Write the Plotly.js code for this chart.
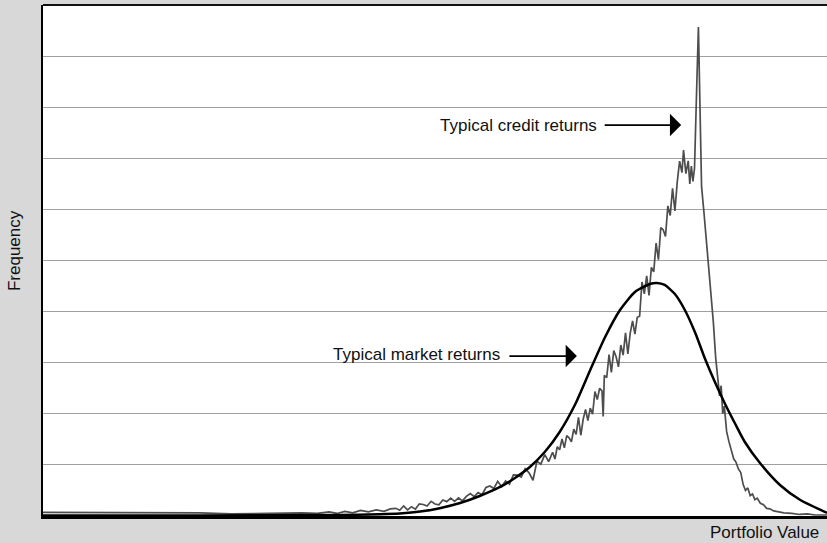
<!DOCTYPE html>
<html>
<head>
<meta charset="utf-8">
<script src="https://cdn.plot.ly/plotly-3.0.1.min.js"></script>
<style>
html,body{margin:0;padding:0;background:#d8d8d8;}
#chart{width:827px;height:543px;}
</style>
</head>
<body>
<div id="chart"></div>
<script>
// Smooth "typical market returns" curve (portfolio value units 0-100, frequency units 0-10)
const marketX = [0, 20.0, 37.9, 43.0, 45.5, 48.1, 50.6, 53.2, 55.7, 58.3, 60.2, 62.1, 64.0, 65.9, 67.9, 69.8, 71.7, 73.6, 75.5, 77.4, 78.3,
  79.3, 80.6, 81.9, 83.2, 84.4, 85.7, 87.0, 88.3, 89.5, 91.5, 94.0, 96.6, 100];
const marketY = [0.01, 0.01, 0.02, 0.035, 0.05, 0.086, 0.153, 0.254, 0.391, 0.568, 0.744, 0.959, 1.252, 1.644, 2.192, 2.857, 3.503, 4.031, 4.384, 4.540, 4.560,
  4.521, 4.344, 4.022, 3.581, 3.092, 2.622, 2.192, 1.800, 1.453, 1.027, 0.607, 0.313, 0.063];

// Jagged "typical credit returns" curve
const creditX = [0, 4, 8, 12, 16, 20, 24, 28, 31, 33, 35, 36.5, 37.5, 38.5, 39.5, 40.5, 41.5, 42.5, 43.5, 44.3,
  45.0, 45.5, 46.0, 46.5, 47.0, 47.5, 48.0, 48.5, 49.0, 49.5, 50.0, 50.5, 51.0, 51.5, 52.0, 52.5, 53.0, 53.5, 54.0, 54.5,
  55.0, 55.5, 56.0, 56.5, 57.0, 57.5, 58.0, 58.5, 59.0, 59.5, 60.0, 60.5, 61.0, 61.5, 62.0, 62.5, 63.0, 63.5, 64.0, 64.5, 65.0,
  65.3, 65.6, 65.9, 66.2, 66.5, 66.8, 67.1, 67.4, 67.7, 68.0, 68.3, 68.6, 68.9, 69.2, 69.5, 69.8, 70.1, 70.4, 70.7, 71.0,
  71.3, 71.45, 71.6, 71.9, 72.2, 72.5, 72.8, 73.1, 73.4, 73.7, 74.0, 74.3, 74.6, 74.9, 75.2, 75.5, 75.8, 76.1, 76.4, 76.7,
  77.0, 77.3, 77.6, 77.9, 78.2, 78.5, 78.8, 79.1, 79.4, 79.7, 80.0, 80.3, 80.6, 80.9, 81.2, 81.5, 81.7, 82.0, 82.3, 82.5,
  82.7, 82.9, 83.1, 83.4, 83.6, 83.8, 84.0, 84.3, 84.6, 84.9, 85.2, 85.5, 85.8, 86.1, 86.3, 86.5, 86.7, 86.9, 87.2, 87.5,
  87.8, 88.1, 88.4, 88.7, 89.0, 89.3, 89.6, 89.9, 90.2, 90.5, 90.8, 91.1, 91.5, 91.9, 92.3, 92.7, 93.2, 93.8, 94.5, 95.5,
  96.5, 97.5, 98.5, 100];
const creditY = [0.07, 0.07, 0.06, 0.07, 0.06, 0.06, 0.04, 0.05, 0.05, 0.06, 0.05, 0.08, 0.05, 0.09, 0.06, 0.11, 0.08, 0.12, 0.09, 0.14,
  0.15, 0.113, 0.196, 0.119, 0.182, 0.135, 0.238, 0.226, 0.194, 0.287, 0.235, 0.219, 0.313, 0.281, 0.35, 0.284, 0.353, 0.296, 0.385, 0.44,
  0.38, 0.458, 0.416, 0.558, 0.588, 0.538, 0.68, 0.571, 0.686, 0.625, 0.804, 0.799, 0.762, 0.925, 0.844, 0.70, 1.071, 1.016, 1.201, 1.063, 1.248,
  1.115, 1.355, 1.296, 1.51, 1.334, 1.574, 1.53, 1.453, 1.70, 1.595, 1.928, 1.58, 1.893, 2.085, 1.868, 2.11, 1.993, 2.435, 2.278, 2.5,
  2.45, 1.95, 2.754, 2.706, 3.158, 2.81, 3.238, 3.116, 2.919, 3.347, 3.15, 3.585, 3.17, 3.581, 3.817, 3.558, 3.89, 3.91, 4.579, 4.347,
  4.70, 4.317, 4.867, 4.777, 5.342, 5.015, 5.645, 5.602, 5.469, 6.068, 5.88, 6.413, 5.97, 6.54, 6.945, 6.72, 7.16, 6.70, 6.95, 6.50,
  6.85, 6.55, 6.80, 8.50, 9.57, 8.00, 6.45, 5.95, 5.45, 4.90, 4.40, 3.80, 3.10, 2.65, 2.35, 2.55, 2.00, 2.15, 1.65, 1.45,
  1.30, 1.12, 1.05, 0.92, 0.85, 0.62, 0.50, 0.55, 0.40, 0.43, 0.32, 0.35, 0.25, 0.22, 0.15, 0.14, 0.10, 0.08, 0.06, 0.05,
  0.03, 0.04, 0.02, 0.02];

const yTicks = [0, 1, 2, 3, 4, 5, 6, 7, 8, 9, 10];

const FONT = '"Liberation Sans Narrow", "Arial Narrow", "Liberation Sans", Arial, sans-serif';

const traces = [
  {x: creditX, y: creditY, type: 'scatter', mode: 'lines', name: 'Typical credit returns',
   line: {color: '#4d4d4d', width: 1.7}, hoverinfo: 'skip'},
  {x: marketX, y: marketY, type: 'scatter', mode: 'lines', name: 'Typical market returns',
   line: {color: '#000000', width: 2.5, shape: 'spline', smoothing: 0.6}, hoverinfo: 'skip'}
];

const layout = {
  width: 827, height: 543,
  margin: {l: 43, r: 0, t: 5, b: 27},
  paper_bgcolor: '#d8d8d8',
  plot_bgcolor: '#ffffff',
  showlegend: false,
  font: {family: FONT, color: '#111', size: 17},
  xaxis: {range: [0, 100], showgrid: false, zeroline: false, showticklabels: false, ticks: '',
          showline: true, linecolor: '#000', linewidth: 3, fixedrange: true},
  yaxis: {range: [0, 10], tickvals: yTicks, showticklabels: false, ticks: '',
          showgrid: true, gridcolor: '#a0a0a0', gridwidth: 1, zeroline: false,
          showline: true, linecolor: '#000', linewidth: 2, fixedrange: true},
  shapes: [
    {type: 'line', xref: 'paper', yref: 'paper', x0: 0, x1: 1, y0: 1, y1: 1, line: {color: '#111', width: 2}}
  ],
  annotations: [
    {text: 'Typical credit returns', x: 60.7, y: 7.65, xref: 'x', yref: 'y', showarrow: false,
     font: {family: FONT, size: 17, color: '#111'}},
    {text: '', x: 81.4, y: 7.65, xref: 'x', yref: 'y', showarrow: true, ax: -78, ay: 0,
     arrowhead: 1, arrowsize: 2.2, arrowwidth: 1.7, arrowcolor: '#000', standoff: 0},
    {text: 'Typical market returns', x: 47.6, y: 3.17, xref: 'x', yref: 'y', showarrow: false,
     font: {family: FONT, size: 17, color: '#111'}},
    {text: '', x: 68.1, y: 3.13, xref: 'x', yref: 'y', showarrow: true, ax: -69, ay: 0,
     arrowhead: 1, arrowsize: 2.2, arrowwidth: 1.7, arrowcolor: '#000', standoff: 0},
    {text: 'Frequency', xref: 'paper', yref: 'paper', x: -0.036, y: 0.52, xanchor: 'center', yanchor: 'middle',
     textangle: -90, showarrow: false, font: {family: FONT, size: 17, color: '#111'}},
    {text: 'Portfolio Value', xref: 'paper', yref: 'paper', x: 0.992, y: -0.033, xanchor: 'right', yanchor: 'middle',
     showarrow: false, font: {family: FONT, size: 17, color: '#111'}}
  ]
};

Plotly.newPlot('chart', traces, layout, {displayModeBar: false, staticPlot: true});
</script>
</body>
</html>
